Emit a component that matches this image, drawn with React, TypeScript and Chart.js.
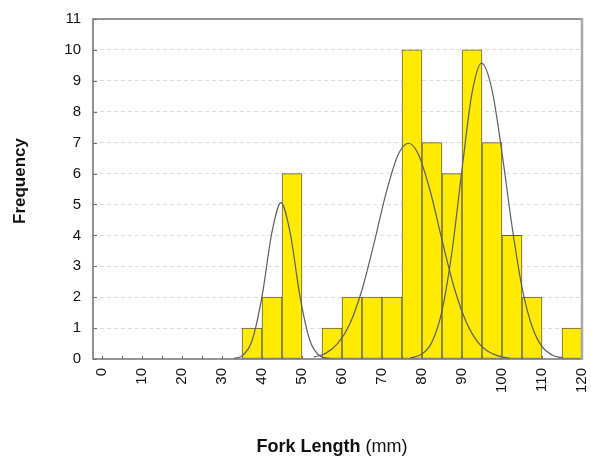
import React, { useEffect, useRef } from "react";
import { Chart, registerables } from "chart.js";

Chart.register(...registerables);

// Histogram bins (5 mm wide), centres and counts
const binCenters = [37.5, 42.5, 47.5, 52.5, 57.5, 62.5, 67.5, 72.5, 77.5, 82.5, 87.5, 92.5, 97.5, 102.5, 107.5, 112.5, 117.5];
const frequencies = [1, 2, 6, 0, 1, 2, 2, 2, 10, 7, 6, 10, 7, 4, 2, 0, 1];

// Fitted normal curves
const curve1X = [33, 35, 37.5, 40, 42.5, 44.75, 47, 49.5, 52, 54.5, 57];
const curve1Y = [0.02, 0.1, 0.59, 2.02, 4.11, 5.06, 4.11, 2.02, 0.59, 0.1, 0.02];

const curve2X = [53, 56, 59, 62, 65, 68, 71, 74, 76.6, 79, 82, 85, 88, 91, 94, 97, 100, 102];
const curve2Y = [0.06, 0.19, 0.51, 1.15, 2.24, 3.74, 5.36, 6.6, 6.98, 6.65, 5.46, 3.85, 2.33, 1.21, 0.54, 0.21, 0.07, 0.03];

const curve3X = [77, 80, 82.5, 85, 87.5, 90, 92.5, 94.9, 97.5, 100, 102.5, 105, 107.5, 110, 112.5, 115];
const curve3Y = [0.03, 0.16, 0.55, 1.56, 3.48, 6.13, 8.6, 9.57, 8.71, 6.67, 4.3, 2.32, 1.06, 0.4, 0.13, 0.035];

const xTicks = [0, 10, 20, 30, 40, 50, 60, 70, 80, 90, 100, 110, 120];
const xMinorTicks = [0, 5, 10, 15, 20, 25, 30, 35, 40, 45, 50, 55, 60, 65, 70, 75, 80, 85, 90, 95, 100, 105, 110, 115, 120];
const yTicks = [0, 1, 2, 3, 4, 5, 6, 7, 8, 9, 10, 11];

const xTitleBold = "Fork Length";
const xTitleNormal = " (mm)";
const yTitle = "Frequency";

const FONT = "'Liberation Sans', Arial, Helvetica, sans-serif";

const toPoints = (xs: number[], ys: number[]) => xs.map((x, i) => ({ x, y: ys[i] }));

const framePlugin = {
  id: "framePlugin",
  afterDraw(chart: any) {
    const { ctx, chartArea } = chart;
    const { left, right, top, bottom } = chartArea;
    const xs = chart.scales.x;
    const ys = chart.scales.y;
    ctx.save();
    // inner ticks
    ctx.strokeStyle = "#6e6e6e";
    ctx.lineWidth = 1;
    ctx.beginPath();
    yTicks.forEach((v) => {
      const py = Math.round(ys.getPixelForValue(v)) + 0.5;
      ctx.moveTo(left, py);
      ctx.lineTo(left + 4, py);
    });
    xMinorTicks.forEach((v) => {
      const px = Math.round(xs.getPixelForValue(v)) + 0.5;
      ctx.moveTo(px, bottom);
      ctx.lineTo(px, bottom - 3);
    });
    ctx.stroke();
    // frame
    ctx.strokeStyle = "#767676";
    ctx.lineWidth = 1.6;
    ctx.beginPath();
    ctx.moveTo(right, top);
    ctx.lineTo(left, top);
    ctx.lineTo(left, bottom);
    ctx.lineTo(right, bottom);
    ctx.stroke();
    ctx.strokeStyle = "#a9a9a9";
    ctx.lineWidth = 2.5;
    ctx.beginPath();
    ctx.moveTo(right, top - 1);
    ctx.lineTo(right, bottom + 1);
    ctx.stroke();

    // titles
    ctx.fillStyle = "#111";
    ctx.textBaseline = "alphabetic";
    ctx.font = `bold 18px ${FONT}`;
    const wB = ctx.measureText(xTitleBold).width;
    ctx.font = `18px ${FONT}`;
    const wN = ctx.measureText(xTitleNormal).width;
    const cx = 332;
    const startX = cx - (wB + wN) / 2;
    const baseY = 452;
    ctx.textAlign = "left";
    ctx.font = `bold 18px ${FONT}`;
    ctx.fillText(xTitleBold, startX, baseY);
    ctx.font = `18px ${FONT}`;
    ctx.fillText(xTitleNormal, startX + wB, baseY);

    ctx.translate(20, 181);
    ctx.rotate(-Math.PI / 2);
    ctx.font = `bold 17px ${FONT}`;
    ctx.textAlign = "center";
    ctx.textBaseline = "middle";
    ctx.fillText(yTitle, 0, 0);
    ctx.restore();
  },
};

export default function App() {
  const canvasRef = useRef<HTMLCanvasElement | null>(null);

  useEffect(() => {
    const canvas = canvasRef.current;
    if (!canvas) return;
    const lineStyle = {
      type: "line" as const,
      borderColor: "#5d5d66",
      borderWidth: 1.2,
      pointRadius: 0,
      fill: false,
      cubicInterpolationMode: "monotone" as const,
      order: 1,
    };
    const chart = new Chart(canvas, {
      type: "bar",
      data: {
        datasets: [
          { ...lineStyle, data: toPoints(curve1X, curve1Y) } as any,
          { ...lineStyle, data: toPoints(curve2X, curve2Y) } as any,
          { ...lineStyle, data: toPoints(curve3X, curve3Y) } as any,
          {
            type: "bar",
            data: toPoints(binCenters, frequencies),
            backgroundColor: "#ffea00",
            borderColor: "#5f5d4c",
            borderWidth: 1,
            borderSkipped: false,
            barPercentage: 1,
            categoryPercentage: 1,
            order: 2,
          } as any,
        ],
      },
      options: {
        animation: false,
        responsive: false,
        devicePixelRatio: 1,
        events: [],
        layout: { padding: { top: 19, right: 9, left: 0, bottom: 0 } },
        plugins: { legend: { display: false }, tooltip: { enabled: false }, title: { display: false } },
        scales: {
          x: {
            type: "linear",
            min: -2.25,
            max: 120,
            offset: false,
            afterBuildTicks: (scale: any) => {
              scale.ticks = xTicks.map((v) => ({ value: v }));
            },
            afterFit: (scale: any) => {
              scale.height = 100;
              scale.paddingLeft = 0;
              scale.paddingRight = 0;
            },
            grid: { display: false, drawTicks: false },
            border: { display: false },
            ticks: {
              autoSkip: false,
              maxRotation: 90,
              minRotation: 90,
              padding: 9,
              color: "#111",
              font: { family: FONT, size: 15 },
            },
          },
          y: {
            min: 0,
            max: 11,
            afterBuildTicks: (scale: any) => {
              scale.ticks = yTicks.map((v) => ({ value: v }));
            },
            afterFit: (scale: any) => {
              scale.width = 93;
              scale.paddingTop = 0;
              scale.paddingBottom = 0;
            },
            grid: { color: "#d9dee2", lineWidth: 1, drawTicks: false },
            border: { display: false, dash: [4, 3] },
            ticks: {
              padding: 12,
              color: "#111",
              font: { family: FONT, size: 15 },
            },
          },
        },
      },
      plugins: [framePlugin],
    });
    return () => chart.destroy();
  }, []);

  return (
    <div style={{ position: "fixed", left: 0, top: 0, width: 591, height: 459, background: "#fff" }}>
      <canvas ref={canvasRef} width={591} height={459} style={{ width: 591, height: 459, display: "block" }} />
    </div>
  );
}
